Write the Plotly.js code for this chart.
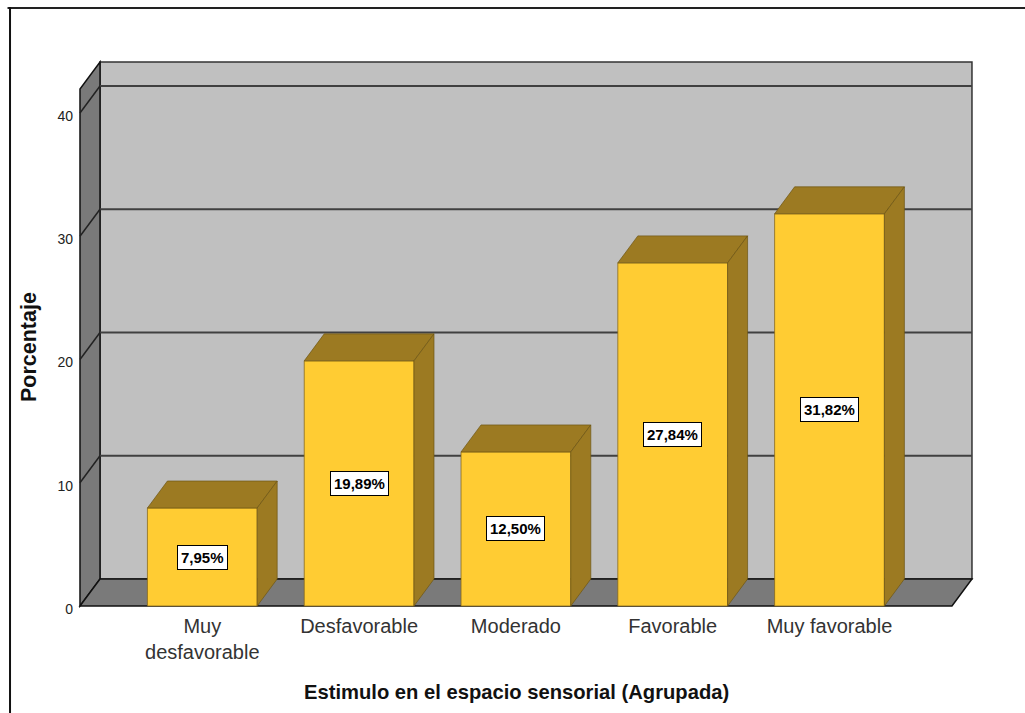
<!DOCTYPE html>
<html>
<head>
<meta charset="utf-8">
<script src="https://cdn.plot.ly/plotly-3.0.1.min.js"></script>
<style>
  html, body { margin: 0; padding: 0; background: #ffffff; }
  #chart { width: 1025px; height: 713px; }
</style>
</head>
<body>
<div id="chart"></div>
<script>
// ---- data ----
var categories = ["Muy<br>desfavorable", "Desfavorable", "Moderado", "Favorable", "Muy favorable"];
var percentages = [7.95, 19.89, 12.50, 27.84, 31.82];
var valueLabels = ["7,95%", "19,89%", "12,50%", "27,84%", "31,82%"];
var yTicks = [0, 10, 20, 30, 40];
var xTitle = "Estimulo en el espacio sensorial (Agrupada)";
var yTitle = "Porcentaje";

// ---- geometry (styling of the pseudo-3D box) ----
var barWidth = 0.70;
var depthX = 0.1276;   // depth offset in category units
var depthY = 2.19;     // depth offset in percent units
var frontLeft = -0.780, frontRight = 4.781;
var backLeft = frontLeft + depthX, backRight = frontRight + depthX;
var backTop = 44.14, frontTop = backTop - depthY;

var cFront = "#FFCC33", cSide = "#9C7A22";
var cWall = "#C0C0C0", cDark = "#7A7A7A", cGrid = "#404040";

var idx = categories.map(function (_, i) { return i; });

// top and side faces built from the values
var topX = [], topY = [], sideX = [], sideY = [];
idx.forEach(function (i) {
  var v = percentages[i], l = i - barWidth / 2, r = i + barWidth / 2;
  topX.push(l, r, r + depthX, l + depthX, l, null);
  topY.push(v, v, v + depthY, v + depthY, v, null);
  sideX.push(r, r + depthX, r + depthX, r, r, null);
  sideY.push(0, depthY, v + depthY, v, 0, null);
});

var traces = [
  {
    type: "bar", x: idx, y: percentages, width: barWidth,
    marker: { color: cFront, line: { color: "rgba(130,100,25,0.75)", width: 1 } },
    hoverinfo: "skip"
  },
  {
    type: "scatter", mode: "lines", x: topX, y: topY, fill: "toself",
    fillcolor: cSide, line: { color: "rgba(110,85,20,0.7)", width: 1 },
    hoverinfo: "skip", cliponaxis: false
  },
  {
    type: "scatter", mode: "lines", x: sideX, y: sideY, fill: "toself",
    fillcolor: cSide, line: { color: "rgba(110,85,20,0.7)", width: 1 },
    hoverinfo: "skip", cliponaxis: false
  }
];

var shapes = [];
// back wall
shapes.push({ type: "rect", xref: "x", yref: "y", layer: "below",
  x0: backLeft, x1: backRight, y0: depthY, y1: backTop,
  fillcolor: cWall, line: { color: "#333333", width: 1.5 } });
// left wall
shapes.push({ type: "path", xref: "x", yref: "y", layer: "below",
  path: "M" + frontLeft + "," + 0 + " L" + backLeft + "," + depthY +
        " L" + backLeft + "," + backTop + " L" + frontLeft + "," + frontTop + " Z",
  fillcolor: cDark, line: { color: "#111111", width: 1.5 } });
// floor
shapes.push({ type: "path", xref: "x", yref: "y", layer: "below",
  path: "M" + frontLeft + "," + 0 + " L" + frontRight + "," + 0 +
        " L" + backRight + "," + depthY + " L" + backLeft + "," + depthY + " Z",
  fillcolor: cDark, line: { color: "#111111", width: 1.5 } });
// gridlines on back wall and left wall
yTicks.forEach(function (t) {
  if (t === 0) return;
  shapes.push({ type: "line", xref: "x", yref: "y", layer: "below",
    x0: backLeft, x1: backRight, y0: t + depthY, y1: t + depthY,
    line: { color: cGrid, width: 2 } });
  shapes.push({ type: "line", xref: "x", yref: "y", layer: "below",
    x0: frontLeft, x1: backLeft, y0: t, y1: t + depthY,
    line: { color: "#222222", width: 1.5 } });
});
// outer frame (top and left)
shapes.push({ type: "line", xref: "paper", yref: "paper",
  x0: -0.0785, x1: 1.06, y0: 1.091, y1: 1.091, line: { color: "#222222", width: 2 } });
shapes.push({ type: "line", xref: "paper", yref: "paper",
  x0: -0.0757, x1: -0.0757, y0: 1.0928, y1: -0.2, line: { color: "#111111", width: 2 } });

var annotations = idx.map(function (i) {
  return {
    x: i, y: percentages[i] / 2, xref: "x", yref: "y",
    text: valueLabels[i], showarrow: false,
    font: { family: "Arial, Liberation Sans, sans-serif", size: 15, color: "#000000", weight: "bold" },
    bgcolor: "#ffffff", bordercolor: "#000000", borderwidth: 1, borderpad: 3
  };
});
annotations.push({
  x: 0.4878, y: -0.1527, xref: "paper", yref: "paper", showarrow: false,
  xanchor: "center", yanchor: "middle", text: xTitle,
  font: { family: "Arial, Liberation Sans, sans-serif", size: 20.2, color: "#111111", weight: "bold" }
});
annotations.push({
  x: -0.0545, y: 0.4745, xref: "paper", yref: "paper", showarrow: false,
  xanchor: "center", yanchor: "middle", textangle: -90, text: yTitle,
  font: { family: "Arial, Liberation Sans, sans-serif", size: 21.5, color: "#111111", weight: "bold" }
});

var layout = {
  width: 1025, height: 713,
  margin: { l: 78, r: 49, t: 58, b: 105, pad: 0 },
  paper_bgcolor: "#ffffff", plot_bgcolor: "rgba(0,0,0,0)",
  showlegend: false,
  font: { family: "Arial, Liberation Sans, sans-serif", color: "#222222" },
  xaxis: {
    range: [-0.7927, 4.9343], tickmode: "array", tickvals: idx, ticktext: categories,
    showgrid: false, zeroline: false, showline: false, ticks: "",
    tickfont: { size: 20, color: "#333333" }, ticklabelstandoff: 4, fixedrange: true
  },
  yaxis: {
    range: [-0.1623, 44.462], tickmode: "array", tickvals: yTicks,
    showgrid: false, zeroline: false, showline: false, ticks: "",
    tickfont: { size: 14, color: "#222222" }, ticklabelstandoff: 4, ticklabelshift: 3,
    fixedrange: true
  },
  shapes: shapes,
  annotations: annotations,
  hovermode: false
};

Plotly.newPlot("chart", traces, layout, { displayModeBar: false, staticPlot: true });
</script>
</body>
</html>
